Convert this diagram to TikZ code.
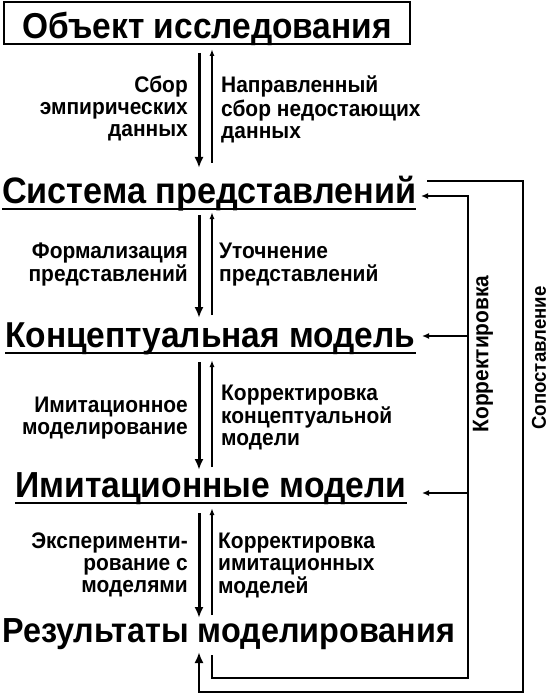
\documentclass[tikz,border=0pt]{standalone}
\usepackage{fontspec}
\setmainfont{Liberation Sans}[FakeStretch=0.93]
\usetikzlibrary{arrows.meta}
\newcommand\mlines[2]{\begin{tabular}[t]{@{}#1@{}}#2\end{tabular}}
\newcommand\hdfont[1]{\fontsize{#1}{40}\selectfont\bfseries}
\begin{document}
\begin{tikzpicture}[x=1pt,y=-1pt,
  head/.style={font=\hdfont{35}, inner sep=0pt, anchor=base west},
  lbl/.style={font=\fontsize{22.5}{22}\selectfont\bfseries, inner sep=0pt},
  downarr/.style={line width=3pt, -{Latex[length=11pt,width=9pt]}},
  uparr/.style={line width=1.4pt, -{Latex[length=7pt,width=5pt]}},
  fb/.style={line width=2.8pt, line join=miter},
  fbarr/.style={line width=2.2pt, -{Latex[length=7pt,width=6pt]}},
  uline/.style={line width=1.5pt}]
\fill[white] (0,0) rectangle (550,695);
\useasboundingbox (0,0) rectangle (550,695);

% title box
\node[draw, line width=1.3pt, minimum width=406pt, minimum height=42pt, inner sep=0pt] (objbox) at (207,23) {};
\node[head, anchor=base, font=\hdfont{36}] (obj) at (207,39) {Объект исследования};

% headings
\node[head, font=\hdfont{36.8}] (sys) at (2,203) {Система представлений};
\node[head, font=\hdfont{36}] (con) at (5,347) {Концептуальная модель};
\node[head, font=\hdfont{36.2}] (imi) at (15,497) {Имитационные модели};
\node[head, font=\hdfont{34.8}] (res) at (2,642) {Результаты моделирования};
\foreach \n in {sys,con,imi}
  \draw[uline] ([yshift=-6pt]\n.base west) -- ([yshift=-6pt]\n.base east);

% labels
\node[lbl, anchor=base east] (l1) at (188,93) {\mlines{r}{Сбор\\эмпирических\\данных}};
\node[lbl, anchor=base west] (r1) at (221,93) {\mlines{l}{Направленный\\сбор недостающих\\данных}};
\node[lbl, anchor=base east] (l2) at (188,258) {\mlines{r}{Формализация\\представлений}};
\node[lbl, anchor=base west] (r2) at (219,258) {\mlines{l}{Уточнение\\представлений}};
\node[lbl, anchor=base east] (l3) at (188,412) {\mlines{r}{Имитационное\\моделирование}};
\node[lbl, anchor=base west] (r3) at (221,400) {\mlines{l}{Корректировка\\концептуальной\\модели}};
\node[lbl, anchor=base east] (l4) at (188,548) {\mlines{r}{Эксперименти-\\рование с\\моделями}};
\node[lbl, anchor=base west] (r4) at (218,548) {\mlines{l}{Корректировка\\имитационных\\моделей}};

% vertical labels
\node[lbl, rotate=90] (kor) at (483,354) {Корректировка};
\node[lbl, rotate=90, font=\fontsize{20}{20}\selectfont\bfseries] (sop) at (539,358) {Сопоставление};

% vertical arrows
\coordinate (d1s) at (199,53);  \coordinate (d1e) at (199,168);
\coordinate (u1s) at (212,163); \coordinate (u1e) at (212,49);
\coordinate (d2s) at (199,215); \coordinate (d2e) at (199,318);
\coordinate (u2s) at (212,315); \coordinate (u2e) at (212,212);
\coordinate (d3s) at (199,362); \coordinate (d3e) at (199,470);
\coordinate (u3s) at (212,467); \coordinate (u3e) at (212,360);
\coordinate (d4s) at (199,513); \coordinate (d4e) at (199,618);
\coordinate (u4s) at (212,615); \coordinate (u4e) at (212,508);
\foreach \i in {1,2,3,4}{
  \draw[downarr] (d\i s) -- (d\i e);
  \draw[uparr] (u\i s) -- (u\i e);
}

% feedback: Корректировка
\coordinate (k0) at (212,655);
\coordinate (k1) at (212,678);
\coordinate (k2) at (468,678);
\coordinate (k3) at (468,196);
\coordinate (k4) at (421,196);
\draw[fb] (k0) -- (k1) -- (k2) -- (k3) -- ([xshift=-1pt]k3 -| 440,0);
\draw[fbarr] (k3) -- (k4);
\coordinate (kc) at (468,336); \coordinate (kct) at (422,336);
\coordinate (ki) at (468,493); \coordinate (kit) at (422,493);
\draw[fbarr] (kc) -- (kct);
\draw[fbarr] (ki) -- (kit);

% feedback: Сопоставление
\coordinate (s0) at (427,181);
\coordinate (s1) at (523,181);
\coordinate (s2) at (523,692);
\coordinate (s3) at (199,692);
\coordinate (s4) at (199,652);
\draw[fb, -{Latex[length=11pt,width=9pt]}] (s0) -- (s1) -- (s2) -- (s3) -- (s4);
\end{tikzpicture}
\end{document}
